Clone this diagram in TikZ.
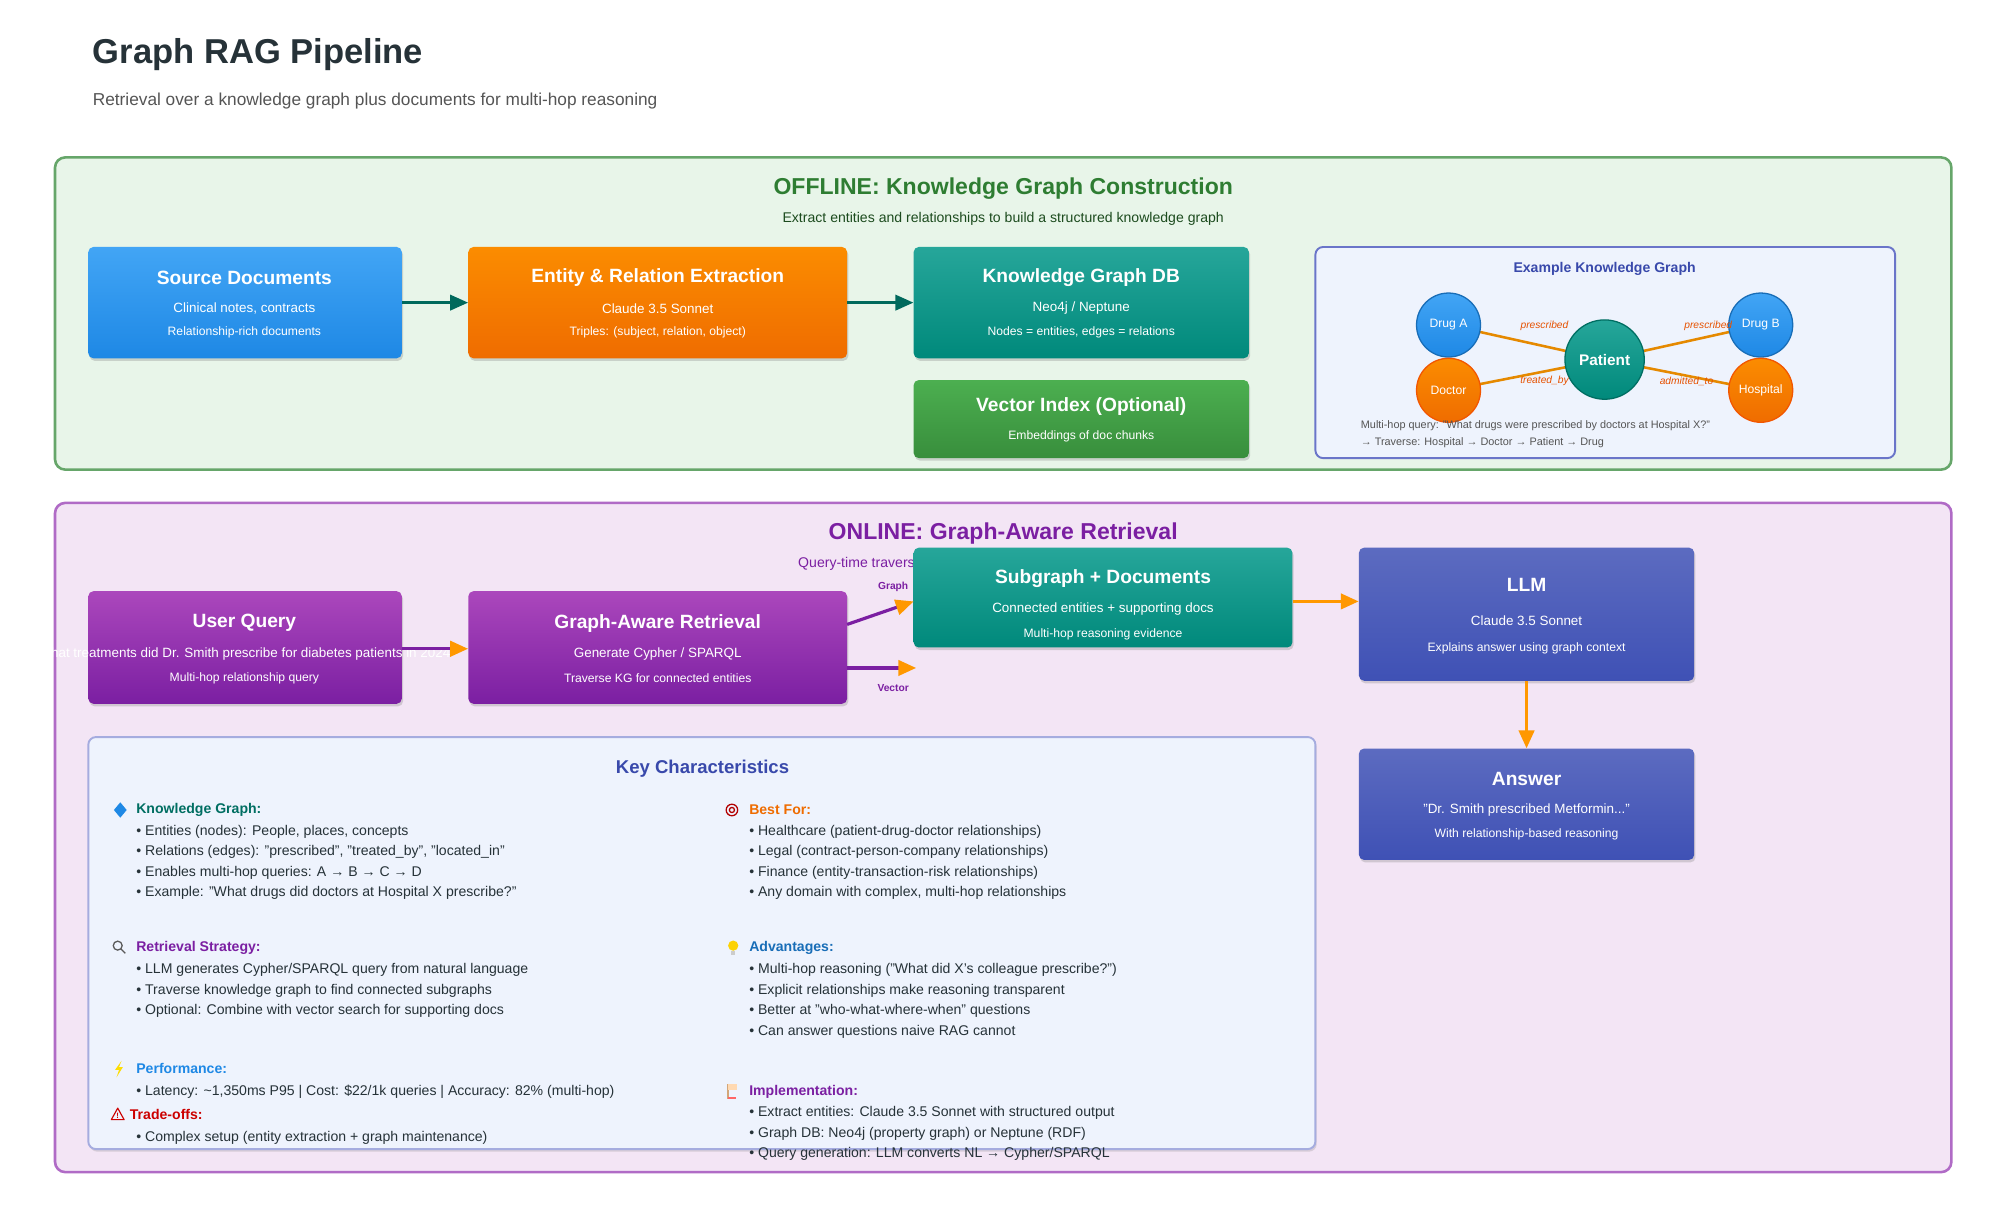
\documentclass[tikz,border=0pt]{standalone}
\usepackage{fontspec}
\setmainfont{Liberation Sans}
\usetikzlibrary{arrows.meta,shadows,backgrounds}
\definecolor{dark}{HTML}{263238}
\definecolor{gtxt}{HTML}{555555}
\definecolor{offbg}{HTML}{E8F5E9}\definecolor{offbd}{HTML}{66A66A}\definecolor{offt}{HTML}{2E7D32}
\definecolor{onbg}{HTML}{F3E5F5}\definecolor{onbd}{HTML}{B06BC6}\definecolor{ont}{HTML}{7B1FA2}
\definecolor{panel}{HTML}{EEF3FD}\definecolor{panbd}{HTML}{6A75C9}\definecolor{indt}{HTML}{3949AB}
\definecolor{bluT}{HTML}{42A5F5}\definecolor{bluB}{HTML}{1E88E5}
\definecolor{orT}{HTML}{FB8C00}\definecolor{orB}{HTML}{EF6C00}
\definecolor{tlT}{HTML}{26A69A}\definecolor{tlB}{HTML}{00897B}
\definecolor{grT}{HTML}{4CAF50}\definecolor{grB}{HTML}{388E3C}
\definecolor{puT}{HTML}{AB47BC}\definecolor{puB}{HTML}{7B1FA2}
\definecolor{inT}{HTML}{5C6BC0}\definecolor{inB}{HTML}{3F51B5}
\definecolor{arrO}{HTML}{FF9800}\definecolor{arrT}{HTML}{00695C}
\definecolor{lblO}{HTML}{E65100}
\pgfdeclarelayer{bg}\pgfdeclarelayer{edges}
\pgfsetlayers{bg,edges,main}
\tikzset{
 box/.style={rounded corners=4pt, draw=none, drop shadow={opacity=0.3,shadow xshift=1pt,shadow yshift=-2pt}},
 btitle/.style={text=white,font=\bfseries\fontsize{15}{18}\selectfont},
 bline/.style={text=white,font=\fontsize{10.5}{12}\selectfont},
 bsmall/.style={text=white,font=\fontsize{9.5}{11}\selectfont},
 kgn/.style={circle,draw,line width=1pt,text=white,font=\fontsize{9.5}{11}\selectfont,minimum size=50pt,inner sep=0pt},
 kge/.style={line width=2pt,draw=arrO!90!black},
 elbl/.style={text=lblO,font=\itshape\fontsize{8}{9}\selectfont},
 hdr/.style={anchor=west,font=\bfseries\fontsize{11}{13}\selectfont},
 bul/.style={anchor=west,text=dark,font=\fontsize{11}{13}\selectfont},
 tarr/.style={line width=2pt,draw=arrT,-{Triangle[length=14pt,width=12pt]}},
 parr/.style={line width=2.5pt,draw=puB,-{Triangle[length=14pt,width=12pt,fill=arrO,color=arrO]}},
 oarr/.style={line width=2.5pt,draw=arrO,-{Triangle[length=14pt,width=12pt]}},
}
\newcommand{\mybox}[7]{% name, x1,y1,x2,y2, top, bottom
 \node[box,top color=#6,bottom color=#7,minimum width={(#4-#2)*1pt},minimum height={(#5-#3)*1pt},inner sep=0pt] (#1) at ({(#2+#4)/2},{(#3+#5)/2}) {};}
\begin{document}
\begin{tikzpicture}[x=1pt,y=-1pt]
\begin{pgfonlayer}{bg}
\fill[white] (0,0) rectangle (1563,946);
\draw[offbd,fill=offbg,line width=2pt,rounded corners=8pt] (43,123) rectangle (1525,367);
\draw[onbd,fill=onbg,line width=2pt,rounded corners=8pt] (43,393) rectangle (1525,916);
\draw[panbd,fill=panel,line width=1.5pt,rounded corners=6pt] (1028,193) rectangle (1481,358);
\draw[panbd!60,fill=panel,line width=1.5pt,rounded corners=6pt,drop shadow={opacity=0.25,shadow xshift=1pt,shadow yshift=-2pt}] (69,576) rectangle (1028,898);
\end{pgfonlayer}
\useasboundingbox (0,0) rectangle (1563,946);
\node[anchor=west,text=dark,font=\bfseries\fontsize{27}{30}\selectfont] (title) at (69,43) {Graph RAG Pipeline};
\node[anchor=west,text=gtxt,font=\fontsize{13.5}{16}\selectfont] (sub) at (69,79) {Retrieval over a knowledge graph plus documents for multi-hop reasoning};
\node[text=offt,font=\bfseries\fontsize{18}{21}\selectfont] (offt) at (784,147) {OFFLINE: Knowledge Graph Construction};
\node[text=offt!60!black,font=\fontsize{11}{13}\selectfont] (offs) at (784,171) {Extract entities and relationships to build a structured knowledge graph};
% offline boxes
\mybox{src}{69}{193}{314}{280}{bluT}{bluB}
\node[btitle] at (191,217) {Source Documents};
\node[bline] at (191,241) {Clinical notes, contracts};
\node[bsmall] at (191,260) {Relationship-rich documents};
\mybox{ext}{366}{193}{662}{280}{orT}{orB}
\node[btitle] at (514,217) {Entity \& Relation Extraction};
\node[bline] at (514,241) {Claude 3.5 Sonnet};
\node[bsmall] at (514,260) {Triples: (subject, relation, object)};
\mybox{kg}{714}{193}{976}{280}{tlT}{tlB}
\node[btitle] at (845,217) {Knowledge Graph DB};
\node[bline] at (845,241) {Neo4j / Neptune};
\node[bsmall] at (845,260) {Nodes = entities, edges = relations};
\mybox{vec}{714}{297}{976}{358}{grT}{grB}
\node[btitle] at (845,318) {Vector Index (Optional)};
\node[bsmall] at (845,341) {Embeddings of doc chunks};
\draw[tarr] (src.east) -- (ext.west);
\draw[tarr] (ext.east) -- (kg.west);
% example KG
\node[text=indt,font=\bfseries\fontsize{11}{13}\selectfont] (kgt) at (1254,210) {Example Knowledge Graph};
\node[kgn,draw=bluB!80!black,top color=bluT,bottom color=bluB] (da) at (1132,254) {Drug A};
\node[kgn,draw=orB!80!red,top color=orT,bottom color=orB] (doc) at (1132,305) {Doctor};
\node[kgn,draw=tlB!80!black,top color=tlT,bottom color=tlB,minimum size=62pt,font=\bfseries\fontsize{12}{14}\selectfont] (pat) at (1254,281) {Patient};
\node[kgn,draw=bluB!80!black,top color=bluT,bottom color=bluB] (db) at (1376,254) {Drug B};
\node[kgn,draw=orB!80!red,top color=orT,bottom color=orB] (hos) at (1376,305) {Hospital};
\begin{pgfonlayer}{edges}
\draw[kge] (pat.center) -- (da.center);
\draw[kge] (pat.center) -- (doc.center);
\draw[kge] (pat.center) -- (db.center);
\draw[kge] (pat.center) -- (hos.center);
\end{pgfonlayer}
\node[elbl] at (1207,255) {prescribed};
\node[elbl] at (1207,298) {treated\_by};
\node[elbl] at (1335,255) {prescribed};
\node[elbl] at (1318,298) {admitted\_to};
\node[anchor=west,text=gtxt,font=\fontsize{8.5}{10}\selectfont] at (1060,333) {Multi-hop query: "What drugs were prescribed by doctors at Hospital X?"};
\node[anchor=west,text=gtxt,font=\fontsize{8.5}{10}\selectfont] at (1060,346) {→ Traverse: Hospital → Doctor → Patient → Drug};
% online
\node[text=ont,font=\bfseries\fontsize{18}{21}\selectfont] (ont) at (784,417) {ONLINE: Graph-Aware Retrieval};
\node[text=ont,font=\fontsize{11}{13}\selectfont] (ons) at (784,441) {Query-time traversal of the knowledge graph with supporting docs};
\mybox{uq}{69}{462}{314}{550}{puT}{puB}
\node[btitle] at (191,487) {User Query};
\node[bline] at (191,511) {What treatments did Dr. Smith prescribe for diabetes patients in 2024};
\node[bsmall] at (191,530) {Multi-hop relationship query};
\mybox{gar}{366}{462}{662}{550}{puT}{puB}
\node[btitle] at (514,487) {Graph-Aware Retrieval};
\node[bline] at (514,511) {Generate Cypher / SPARQL};
\node[bsmall] at (514,530) {Traverse KG for connected entities};
\mybox{sub}{714}{428}{1010}{506}{tlT}{tlB}
\node[btitle] at (862,452) {Subgraph + Documents};
\node[bline] at (862,476) {Connected entities + supporting docs};
\node[bsmall] at (862,496) {Multi-hop reasoning evidence};
\mybox{llm}{1062}{428}{1324}{532}{inT}{inB}
\node[btitle] at (1193,457) {LLM};
\node[bline] at (1193,485) {Claude 3.5 Sonnet};
\node[bsmall] at (1193,507) {Explains answer using graph context};
\mybox{ans}{1062}{585}{1324}{672}{inT}{inB}
\node[btitle] at (1193,609) {Answer};
\node[bline] at (1193,633) {"Dr. Smith prescribed Metformin..."};
\node[bsmall] at (1193,652) {With relationship-based reasoning};
\coordinate (g1) at (662,488); \coordinate (g2) at (714,470);
\coordinate (v1) at (662,522); \coordinate (v2) at (716,522);
\draw[parr] (uq.east |- 0,507) -- (gar.west |- 0,507);
\draw[parr] (g1) -- (g2);
\draw[parr] (v1) -- (v2);
\node[text=ont,font=\bfseries\fontsize{8}{10}\selectfont] at (698,459) {Graph};
\node[text=ont,font=\bfseries\fontsize{8}{10}\selectfont] at (698,538) {Vector};
\draw[oarr] (sub.east |- 0,470) -- (llm.west |- 0,470);
\draw[oarr] (llm.south) -- (ans.north);
% key characteristics
\node[text=indt,font=\bfseries\fontsize{14.5}{17}\selectfont] (kct) at (549,601) {Key Characteristics};
% icons
\fill[bluB] (94,627) -- (99,633) -- (94,639) -- (89,633) -- cycle;
\draw[red!70!black,line width=1pt] (572,633) circle (4.5) (572,633) circle (2);
\draw[gray!70!black,line width=1pt] (92,739) circle (3.5) (94.5,741.5) -- (98,745);
\fill[yellow!70!orange] (573,739) circle (4); \fill[gray!40] (571.5,743) rectangle (574.5,746);
\fill[yellow!80!orange] (95,829) -- (90,836) -- (93,836) -- (91,842) -- (96,834) -- (93,834) -- cycle;
\draw[brown!70,line width=1pt] (569,847) -- (569,859); \fill[red!60] (569,857) rectangle (575,859); \fill[orange!30] (569,847) rectangle (576,852);
\draw[red!80!black,line width=0.9pt,line join=round] (92,866) -- (97,875) -- (87,875) -- cycle;
\node[red!80!black,font=\bfseries\fontsize{6}{6}\selectfont] at (92,872) {!};
\node[hdr,text=tlB!80!black] at (103,633) {Knowledge Graph:};
\node[bul] at (103,650) {• Entities (nodes): People, places, concepts};
\node[bul] at (103,666) {• Relations (edges): "prescribed", "treated\_by", "located\_in"};
\node[bul] at (103,682) {• Enables multi-hop queries: A → B → C → D};
\node[bul] at (103,698) {• Example: "What drugs did doctors at Hospital X prescribe?"};
\node[hdr,text=ont] at (103,741) {Retrieval Strategy:};
\node[bul] at (103,758) {• LLM generates Cypher/SPARQL query from natural language};
\node[bul] at (103,774) {• Traverse knowledge graph to find connected subgraphs};
\node[bul] at (103,790) {• Optional: Combine with vector search for supporting docs};
\node[hdr,text=bluB] at (103,835) {Performance:};
\node[bul] at (103,853) {• Latency: \textasciitilde 1,350ms P95 | Cost: \$22/1k queries | Accuracy: 82\% (multi-hop)};
\node[hdr,text=red!80!black] at (98,871) {Trade-offs:};
\node[bul] at (103,889) {• Complex setup (entity extraction + graph maintenance)};
\node[hdr,text=orB] at (582,633) {Best For:};
\node[bul] at (582,650) {• Healthcare (patient-drug-doctor relationships)};
\node[bul] at (582,666) {• Legal (contract-person-company relationships)};
\node[bul] at (582,682) {• Finance (entity-transaction-risk relationships)};
\node[bul] at (582,698) {• Any domain with complex, multi-hop relationships};
\node[hdr,text=bluB!80!black] at (582,741) {Advantages:};
\node[bul] at (582,758) {• Multi-hop reasoning ("What did X's colleague prescribe?")};
\node[bul] at (582,774) {• Explicit relationships make reasoning transparent};
\node[bul] at (582,790) {• Better at "who-what-where-when" questions};
\node[bul] at (582,806) {• Can answer questions naive RAG cannot};
\node[hdr,text=ont] at (582,853) {Implementation:};
\node[bul] at (582,870) {• Extract entities: Claude 3.5 Sonnet with structured output};
\node[bul] at (582,886) {• Graph DB: Neo4j (property graph) or Neptune (RDF)};
\node[bul] at (582,902) {• Query generation: LLM converts NL → Cypher/SPARQL};
\end{tikzpicture}
\end{document}
